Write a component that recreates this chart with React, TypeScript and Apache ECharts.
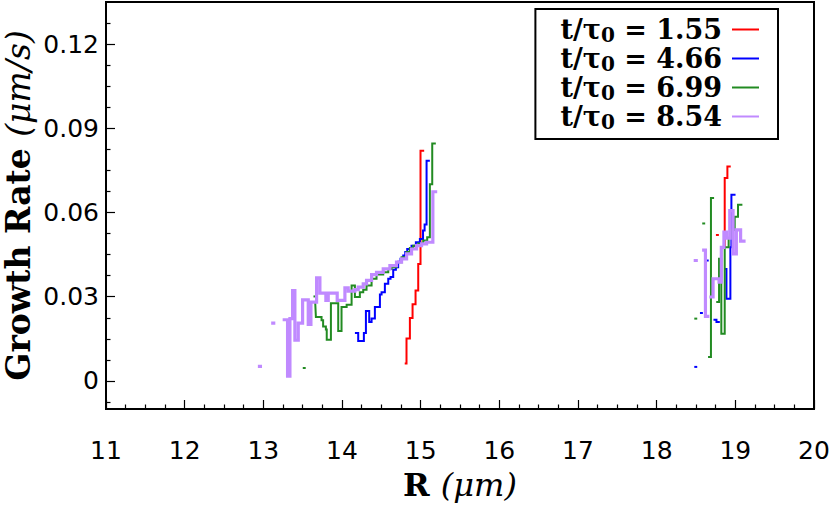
import React, { useEffect, useRef } from "react";
import * as echarts from "echarts";

const xMin = 11;
const xMax = 20;
const yMin = -0.01;
const yMax = 0.135;
const yMajorTicks = [0, 0.03, 0.06, 0.09, 0.12];
const legendValues = ["1.55", "4.66", "6.99", "8.54"];
const seriesColors = ["#ff0000", "#0000ff", "#228b22", "#c08aff"];

// step segments: [R, growth rate] pairs, drawn with step 'end'
const redSegments = [
  [[14.81, 0.0062], [14.82, 0.0151], [14.863, 0.0224], [14.897, 0.0273], [14.935, 0.0322], [14.969, 0.0417], [14.998, 0.082], [15.032, 0.082]],
  [[18.85, 0.0476], [18.865, 0.0723], [18.899, 0.0764], [18.929, 0.0764]],
];
const redDots = [[18.772, 0.052]];

const blueSegments = [
  [[14.177, 0.0171], [14.206, 0.0142], [14.278, 0.0171], [14.304, 0.0249], [14.346, 0.021], [14.376, 0.0222], [14.418, 0.0263], [14.482, 0.0308], [14.503, 0.0316], [14.545, 0.0346], [14.588, 0.0364], [14.617, 0.037], [14.651, 0.0396], [14.685, 0.0405], [14.714, 0.0425], [14.744, 0.0435], [14.778, 0.0447], [14.804, 0.0459], [14.829, 0.047], [14.884, 0.0482], [14.939, 0.0494], [14.99, 0.0506], [15.03, 0.0536], [15.05, 0.0557], [15.075, 0.0784], [15.104, 0.0784]],
  [[18.735, 0.0218], [18.76, 0.021], [18.79, 0.021]],
  [[18.87, 0.0399], [18.887, 0.0293], [18.937, 0.0476], [18.95, 0.0663], [18.99, 0.0663]],
];
const blueDots = [[18.497, 0.005], [18.569, 0.0242], [18.643, 0.0429]];

const greenSegments = [
  [[13.66, 0.0277], [13.668, 0.0228], [13.74, 0.0216], [13.76, 0.0194], [13.795, 0.0183], [13.806, 0.0147], [13.859, 0.0277], [13.952, 0.0178], [13.994, 0.0263], [14.059, 0.0271], [14.122, 0.034], [14.164, 0.0299], [14.227, 0.0316], [14.27, 0.0325], [14.312, 0.034], [14.376, 0.0364], [14.439, 0.0379], [14.524, 0.0387], [14.588, 0.0399], [14.63, 0.0405], [14.693, 0.0423], [14.757, 0.0441], [14.821, 0.0459], [14.863, 0.0474], [14.905, 0.0482], [14.969, 0.049], [15.032, 0.05], [15.083, 0.0512], [15.117, 0.0701], [15.147, 0.0846], [15.18, 0.0846]],
  [[18.666, 0.0085], [18.69, 0.0652], [18.717, 0.0652]],
  [[18.77, 0.0281], [18.793, 0.0435], [18.822, 0.0168], [18.865, 0.0476], [18.915, 0.0509], [18.94, 0.0538], [18.992, 0.0585], [19.034, 0.0628], [19.077, 0.0628]],
];
const greenDots = [[13.52, 0.0046], [13.656, 0.0301], [18.598, 0.0561], [18.497, 0.0222]];

const purpleSegments = [
  [[13.266, 0.0218], [13.308, 0.0017], [13.338, 0.0222], [13.372, 0.0322], [13.401, 0.0145], [13.444, 0.0206], [13.499, 0.0289], [13.571, 0.0201], [13.605, 0.0281], [13.677, 0.0367], [13.719, 0.0313], [13.795, 0.0287], [13.825, 0.0313], [13.939, 0.0287], [14.037, 0.0332], [14.079, 0.032], [14.164, 0.0325], [14.206, 0.0334], [14.27, 0.0346], [14.312, 0.0358], [14.376, 0.0379], [14.439, 0.0387], [14.524, 0.0399], [14.609, 0.0411], [14.693, 0.0423], [14.757, 0.0435], [14.821, 0.0453], [14.884, 0.047], [14.948, 0.0482], [15.011, 0.0488], [15.075, 0.0494], [15.155, 0.0674], [15.19, 0.0674]],
  [[18.598, 0.0466], [18.62, 0.023], [18.65, 0.023]],
  [[18.69, 0.0299], [18.717, 0.0364], [18.793, 0.0352], [18.822, 0.0476], [18.855, 0.053], [18.887, 0.0509], [18.929, 0.0607], [18.971, 0.0453], [19.013, 0.0538], [19.067, 0.0498], [19.11, 0.0498]],
];
const purpleDots = [[12.957, 0.0052], [13.126, 0.0206], [18.497, 0.0429]];

const allSegments = [redSegments, blueSegments, greenSegments, purpleSegments];
const allDots = [redDots, blueDots, greenDots, purpleDots];

function seriesName(v: string) {
  return "t/τ0 = " + v;
}

export default function App() {
  const ref = useRef<HTMLDivElement>(null);
  useEffect(() => {
    if (!ref.current) return;
    const chart = echarts.init(ref.current, null, { renderer: "svg" });

    const series: any[] = [];
    legendValues.forEach((v, k) => {
      const name = seriesName(v);
      const color = seriesColors[k];
      const width = k === 3 ? 3.2 : 2;
      const base = {
        type: "line",
        name,
        step: "end",
        showSymbol: false,
        symbol: "none",
        silent: true,
        z: 2 + k,
        itemStyle: { color },
        lineStyle: { color, width, cap: "square", join: "miter" },
        emphasis: { disabled: true },
      };
      allSegments[k].forEach((seg) => series.push({ ...base, data: seg }));
      allDots[k].forEach((d) =>
        series.push({ ...base, data: [[d[0] - 0.006, d[1]], [d[0] + 0.006, d[1]]] })
      );
    });

    const minorTicks: number[] = [];
    for (let m = -0.03; m < yMax; m += 0.03) {
      for (let j = 1; j < 4; j++) {
        const t = +(m + j * 0.0075).toFixed(5);
        if (t > yMin && t < yMax) minorTicks.push(t);
      }
    }

    const serifRich = {
      b: { fontFamily: "DejaVu Serif", fontWeight: "bold", fontSize: 33, lineHeight: 36, color: "#000" },
      i: { fontFamily: "DejaVu Serif", fontStyle: "italic", fontSize: 33, lineHeight: 36, color: "#000" },
    };

    chart.setOption({
      animation: false,
      backgroundColor: "#fff",
      grid: {
        left: 106, right: 16, top: 2, bottom: 101,
        containLabel: false, outerBoundsMode: "none",
        show: true, borderColor: "#000", borderWidth: 2, backgroundColor: "transparent",
      },
      legend: {
        data: legendValues.map(seriesName),
        orient: "vertical",
        right: 52,
        top: 9,
        align: "right",
        icon: "rect",
        itemWidth: 27,
        itemHeight: 2,
        itemGap: 0,
        selectedMode: false,
        padding: [7, 19, 7, 25],
        borderColor: "#000",
        borderWidth: 2,
        borderRadius: 0,
        backgroundColor: "#fff",
        formatter: (name: string) => {
          const v = name.split("= ")[1];
          return "{b|t/τ}{s|0}{b| = " + v + "}";
        },
        textStyle: {
          padding: [0, 5, 0, 0],
          rich: {
            b: { fontFamily: "DejaVu Serif", fontWeight: "bold", fontSize: 27, lineHeight: 31, color: "#000" },
            s: { fontFamily: "DejaVu Serif", fontWeight: "bold", fontSize: 20, lineHeight: 22, verticalAlign: "bottom", color: "#000" },
          },
        },
      },
      xAxis: {
        type: "value",
        min: xMin,
        max: xMax,
        interval: 1,
        name: "{b|R }{i|(μm)}",
        nameLocation: "middle",
        nameGap: 58,
        nameMoveOverlap: false,
        nameTextStyle: { rich: { b: { ...serifRich.b, fontSize: 32, lineHeight: 36 }, i: { ...serifRich.i, fontSize: 32, lineHeight: 36 } } },
        axisLine: { show: true, onZero: false, lineStyle: { color: "#000", width: 2 } },
        axisTick: { show: true, inside: true, length: 9, lineStyle: { color: "#000", width: 1.2 } },
        minorTick: { show: true, splitNumber: 4, length: 4.5, lineStyle: { color: "#000", width: 1.2 } },
        axisLabel: { fontFamily: "DejaVu Sans", fontSize: 25, color: "#000", margin: 29 },
        splitLine: { show: false },
        minorSplitLine: { show: false },
      },
      yAxis: [
        {
          type: "value",
          min: yMin,
          max: yMax,
          position: "left",
          name: "{b|Growth Rate }{i|(μm/s)}",
          nameLocation: "middle",
          nameRotate: 90,
          nameGap: 70,
          nameMoveOverlap: false,
          nameTextStyle: { rich: serifRich },
          axisLine: { show: true, onZero: false, lineStyle: { color: "#000", width: 2 } },
          axisTick: { show: true, inside: true, length: 9, customValues: yMajorTicks, lineStyle: { color: "#000", width: 1.2 } },
          axisLabel: {
            customValues: yMajorTicks,
            fontFamily: "DejaVu Sans",
            fontSize: 25,
            color: "#000",
            margin: 7,
            formatter: (v: number) => (v === 0 ? "0" : v.toFixed(2)),
          },
          splitLine: { show: false },
        },
        {
          type: "value",
          min: yMin,
          max: yMax,
          position: "left",
          offset: 0,
          axisLine: { show: false },
          axisTick: { show: true, inside: true, length: 4.5, customValues: minorTicks, lineStyle: { color: "#000", width: 1.2 } },
          axisLabel: { show: false },
          splitLine: { show: false },
        },
      ],
      series,
    });
    return () => chart.dispose();
  }, []);
  return <div ref={ref} style={{ position: "absolute", left: 0, top: 0, width: 830, height: 510 }} />;
}
